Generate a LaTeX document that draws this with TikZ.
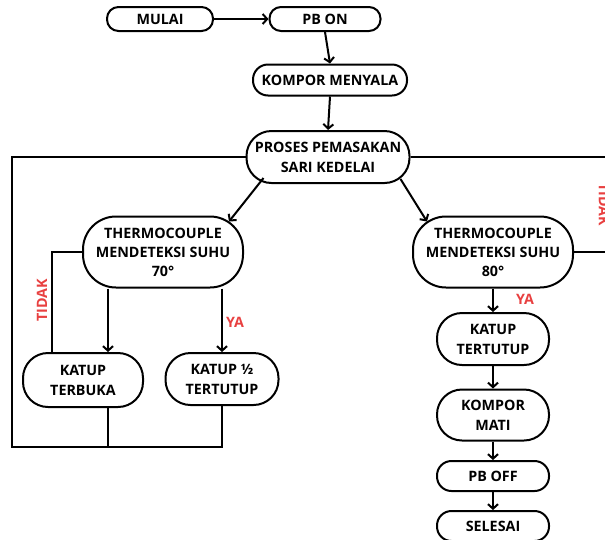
\documentclass[tikz,border=0pt]{standalone}
\usepackage{fontspec}
\setmainfont{Open Sans}
\usetikzlibrary{arrows.meta}
\definecolor{merah}{RGB}{232,64,64}

\begin{document}
\begin{tikzpicture}[
        x=1pt, y=1pt,
        blok/.style={
            rectangle,
            draw,
            line width=2pt,
            rounded corners=#1,
            align=center,
            minimum width=112pt,
            minimum height=52pt,
            inner sep=1pt,
            font=\bfseries\fontsize{14.3}{20}\selectfont
        },
        blok/.default=25pt,
        kecil/.style={
            blok=11.5pt,
            minimum height=24pt
        },
        sensor/.style={
            blok=33pt,
            minimum width=160pt,
            minimum height=71pt,
            font=\bfseries\fontsize{14.3}{19}\selectfont
        },
        arrow/.style={
            -{Straight Barb[length=4.5pt,width=10pt]},
            line width=2pt
        },
        garis/.style={
            line width=2pt
        },
        pilihan/.style={
            text=merah,
            font=\bfseries\fontsize{14.3}{16}\selectfont
        }
    ]
        \useasboundingbox (0,0) rectangle (605,-539);
        \clip (0,0) rectangle (605,-539);

        \node[kecil, minimum width=106pt] (mulai) at (160,-19) {MULAI};
        \node[kecil, minimum width=111pt] (pbon) at (325,-19) {PB ON};
        \node[kecil, blok=15pt, minimum width=154pt, minimum height=31pt] (kompor) at (330,-80) {KOMPOR MENYALA};
        \node[blok, minimum width=163pt] (proses) at (328,-157) {PROSES PEMASAKAN\\SARI KEDELAI};
        \node[sensor] (tc70) at (163,-252) {THERMOCOUPLE\\MENDETEKSI SUHU\\70°};
        \node[sensor] (tc80) at (493,-252) {THERMOCOUPLE\\MENDETEKSI SUHU\\80°};
        \node[blok, minimum width=120pt, minimum height=54pt] (buka) at (83,-380) {KATUP\\TERBUKA};
        \node[blok, minimum width=113pt] (setengah) at (222,-379) {KATUP ½\\TERTUTUP};
        \node[blok] (tutup) at (493,-339) {KATUP\\TERTUTUP};
        \node[blok, minimum height=51pt] (mati) at (493,-415) {KOMPOR\\MATI};
        \node[blok=14.5pt, minimum height=30pt] (pboff) at (493,-476) {PB OFF};
        \node[blok=14.5pt, minimum height=30pt] (selesai) at (493,-526) {SELESAI};

        \coordinate (kiri) at (12,-447);
        \coordinate (kanan1) at (612,-157);
        \coordinate (kanan2) at (612,-252);

        \draw[arrow] (mulai) -- (pbon);
        \draw[arrow] (pbon.south) -- (kompor.north);
        \draw[arrow] (kompor.south) -- (proses.north);
        \draw[arrow] ([xshift=18pt,yshift=6pt]proses.south west) -- ([xshift=-15pt,yshift=-6pt]tc70.north east);
        \draw[arrow] ([xshift=-10pt,yshift=5pt]proses.south east) -- ([xshift=15pt,yshift=-6pt]tc80.north west);

        % loop back
        \draw[garis] (proses.west) -| (kiri) -| (setengah.south);
        \draw[garis] ([xshift=25pt]buka.south) -- ([xshift=25pt]buka.south |- kiri);
        \draw[garis] (proses.east) -- (kanan1);

        \draw[garis] (tc70.west) -| ([xshift=-31pt]buka.north);
        \draw[arrow] ([xshift=-55pt]tc70.south) -- ([xshift=-55pt]tc70.south |- buka.north);
        \draw[arrow] ([xshift=59pt]tc70.south) -- (setengah.north);
        \node[pilihan, rotate=90] (tidak1) at (42,-300) {TIDAK};
        \node[pilihan] (ya1) at (235,-322) {YA};

        \draw[garis] (tc80.east) -- (kanan2);
        \node[pilihan, rotate=-90] (tidak2) at (604,-205) {TIDAK};
        \draw[arrow] (tc80.south) -- (tutup.north);
        \node[pilihan] (ya2) at (525,-299) {YA};

        \draw[arrow] (tutup.south) -- (mati.north);
        \draw[arrow] (mati.south) -- (pboff.north);
        \draw[arrow] (pboff.south) -- (selesai.north);

    \end{tikzpicture}
\end{document}
